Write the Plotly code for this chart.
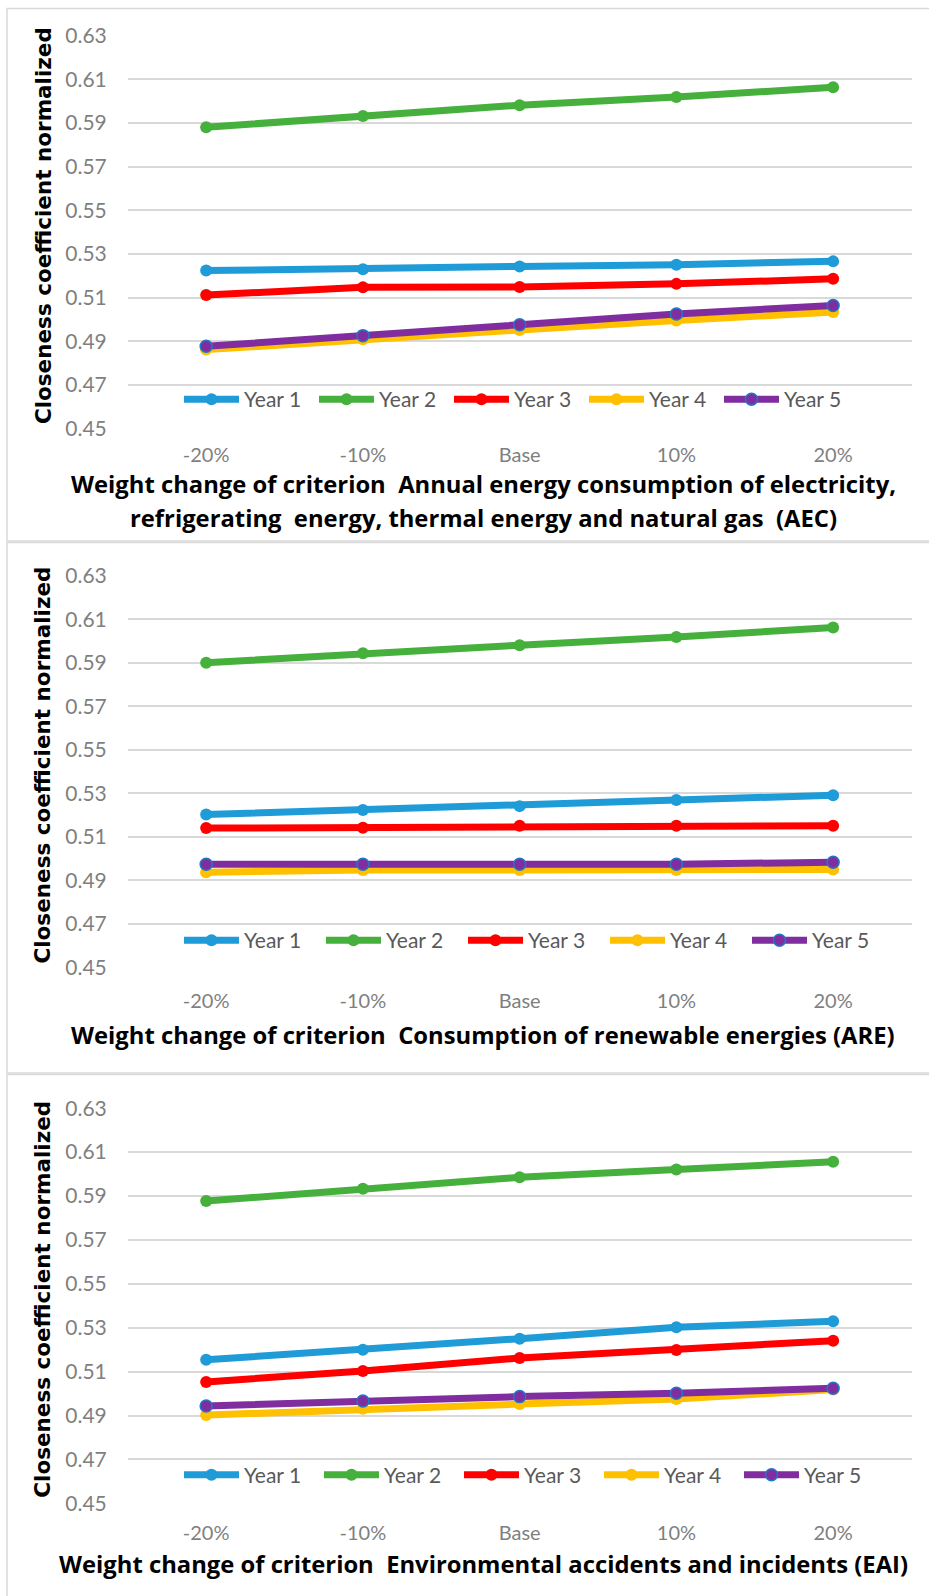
import plotly.graph_objects as go

# ---------------- data ----------------
categories = ["-20%", "-10%", "Base", "10%", "20%"]
series_names = ["Year 1", "Year 2", "Year 3", "Year 4", "Year 5"]
y_ticks = [0.45, 0.47, 0.49, 0.51, 0.53, 0.55, 0.57, 0.59, 0.61, 0.63]

aec_year1 = [0.5224, 0.5230, 0.5243, 0.5251, 0.5266]
aec_year2 = [0.5880, 0.5931, 0.5981, 0.6018, 0.6063]
aec_year3 = [0.5112, 0.5147, 0.5149, 0.5163, 0.5186]
aec_year4 = [0.4862, 0.4910, 0.4952, 0.4995, 0.5034]
aec_year5 = [0.4877, 0.4926, 0.4976, 0.5025, 0.5064]

are_year1 = [0.5203, 0.5223, 0.5241, 0.5269, 0.5291]
are_year2 = [0.5900, 0.5944, 0.5981, 0.6019, 0.6062]
are_year3 = [0.5140, 0.5142, 0.5151, 0.5151, 0.5151]
are_year4 = [0.4937, 0.4947, 0.4947, 0.4947, 0.4950]
are_year5 = [0.4974, 0.4974, 0.4974, 0.4974, 0.4983]

eai_year1 = [0.5154, 0.5200, 0.5250, 0.5302, 0.5329]
eai_year2 = [0.5877, 0.5933, 0.5985, 0.6021, 0.6056]
eai_year3 = [0.5053, 0.5103, 0.5162, 0.5198, 0.5241]
eai_year4 = [0.4902, 0.4931, 0.4952, 0.4975, 0.5018]
eai_year5 = [0.4943, 0.4966, 0.4986, 0.5001, 0.5024]

panel_titles = [
    ["Weight change of criterion\u00a0 Annual energy consumption of electricity,",
     "refrigerating\u00a0 energy, thermal energy and natural gas\u00a0 (AEC)"],
    ["Weight change of criterion\u00a0 Consumption of renewable energies (ARE)"],
    ["Weight change of criterion\u00a0 Environmental accidents and incidents (EAI)"],
]
y_title = "Closeness coefficient normalized"

panels = [
    [aec_year1, aec_year2, aec_year3, aec_year4, aec_year5],
    [are_year1, are_year2, are_year3, are_year4, are_year5],
    [eai_year1, eai_year2, eai_year3, eai_year4, eai_year5],
]

# ---------------- style ----------------
W, H = 929, 1596
line_colors = ["#1f9bd7", "#45b03c", "#ff0000", "#ffc000", "#7f2d9f"]
marker_line = ["#1f9bd7", "#45b03c", "#ff0000", "#ffc000", "#2078c8"]
grid_col = "#d9d9d9"
tick_col = "#7f7f7f"

def py(p):  # pixel y -> paper
    return 1 - p / H

def px(p):
    return p / W

plot_y = [(35.5, 428.7), (575.8, 967.3), (1108.2, 1503.3)]
plot_x = (127.8, 911.5)
legend_y = [399.5, 940.5, 1475.0]
legend_entry = [135, 142, 140]
tick_standoff = [12, 20, 16]
title_y = [[484, 518], [1035], [1564]]
border_y = [(8.5, 541), (542.5, 1073), (1074.5, 1600)]

fig = go.Figure()

for i, data in enumerate(panels):
    xa = "x" if i == 0 else f"x{i+1}"
    ya = "y" if i == 0 else f"y{i+1}"
    lg = "legend" if i == 0 else f"legend{i+1}"
    for j, vals in enumerate(data):
        fig.add_trace(go.Scatter(
            x=categories, y=vals, name=series_names[j],
            mode="lines+markers", xaxis=xa, yaxis=ya, legend=lg,
            line=dict(color=line_colors[j], width=7),
            marker=dict(size=12, color=line_colors[j],
                        line=dict(color=marker_line[j], width=1.5 if j == 4 else 0)),
        ))
    xkey = "xaxis" if i == 0 else f"xaxis{i+1}"
    ykey = "yaxis" if i == 0 else f"yaxis{i+1}"
    top, bot = plot_y[i]
    fig.update_layout(**{
        xkey: dict(domain=[px(plot_x[0]), px(plot_x[1])], anchor=ya,
                   type="category", range=[-0.5, 4.5], showgrid=False,
                   showline=False, zeroline=False, ticks="", automargin=False,
                   ticklabelstandoff=tick_standoff[i],
                   tickfont=dict(family="Lato", size=20, color=tick_col)),
        ykey: dict(domain=[py(bot), py(top)], anchor=xa, range=[0.45, 0.63],
                   tickvals=y_ticks, ticktext=[f"{v:.2f}" for v in y_ticks],
                   showgrid=True, gridcolor=grid_col, gridwidth=1.5,
                   zeroline=False, showline=False, ticks="", automargin=False,
                   ticklabelstandoff=20,
                   tickfont=dict(family="Lato", size=21, color=tick_col)),
        lg: dict(orientation="h", x=px(179), xanchor="left",
                 y=py(legend_y[i]), yanchor="middle",
                 font=dict(family="Lato", size=21, color="#595959"),
                 itemwidth=55, entrywidth=legend_entry[i] - 70,
                 entrywidthmode="pixels", bgcolor="rgba(0,0,0,0)",
                 traceorder="normal", itemclick=False),
    })
    fig.add_annotation(text=y_title, xref="paper", yref="paper",
                       x=px(43), y=py((top + bot) / 2 - 6), textangle=-90,
                       showarrow=False, xanchor="center", yanchor="middle",
                       font=dict(family="DejaVu Sans", size=21.5, color="#000000",
                                 weight="bold"))
    for k, t in enumerate(panel_titles[i]):
        fig.add_annotation(text=t, xref="paper", yref="paper",
                           x=px(483), y=py(title_y[i][k]), showarrow=False,
                           xanchor="center", yanchor="middle",
                           font=dict(family="Open Sans", size=23.8, color="#000000",
                                     weight="bold"))
    b0, b1 = border_y[i]
    fig.add_shape(type="rect", xref="paper", yref="paper",
                  x0=px(7), x1=px(940), y0=py(b1), y1=py(b0),
                  line=dict(color=grid_col, width=1.5), fillcolor="rgba(0,0,0,0)",
                  layer="below")

fig.update_layout(width=W, height=H, margin=dict(l=0, r=0, t=0, b=0, autoexpand=False),
                  paper_bgcolor="white", plot_bgcolor="white",
                  showlegend=True)

fig.write_html("out.html")
